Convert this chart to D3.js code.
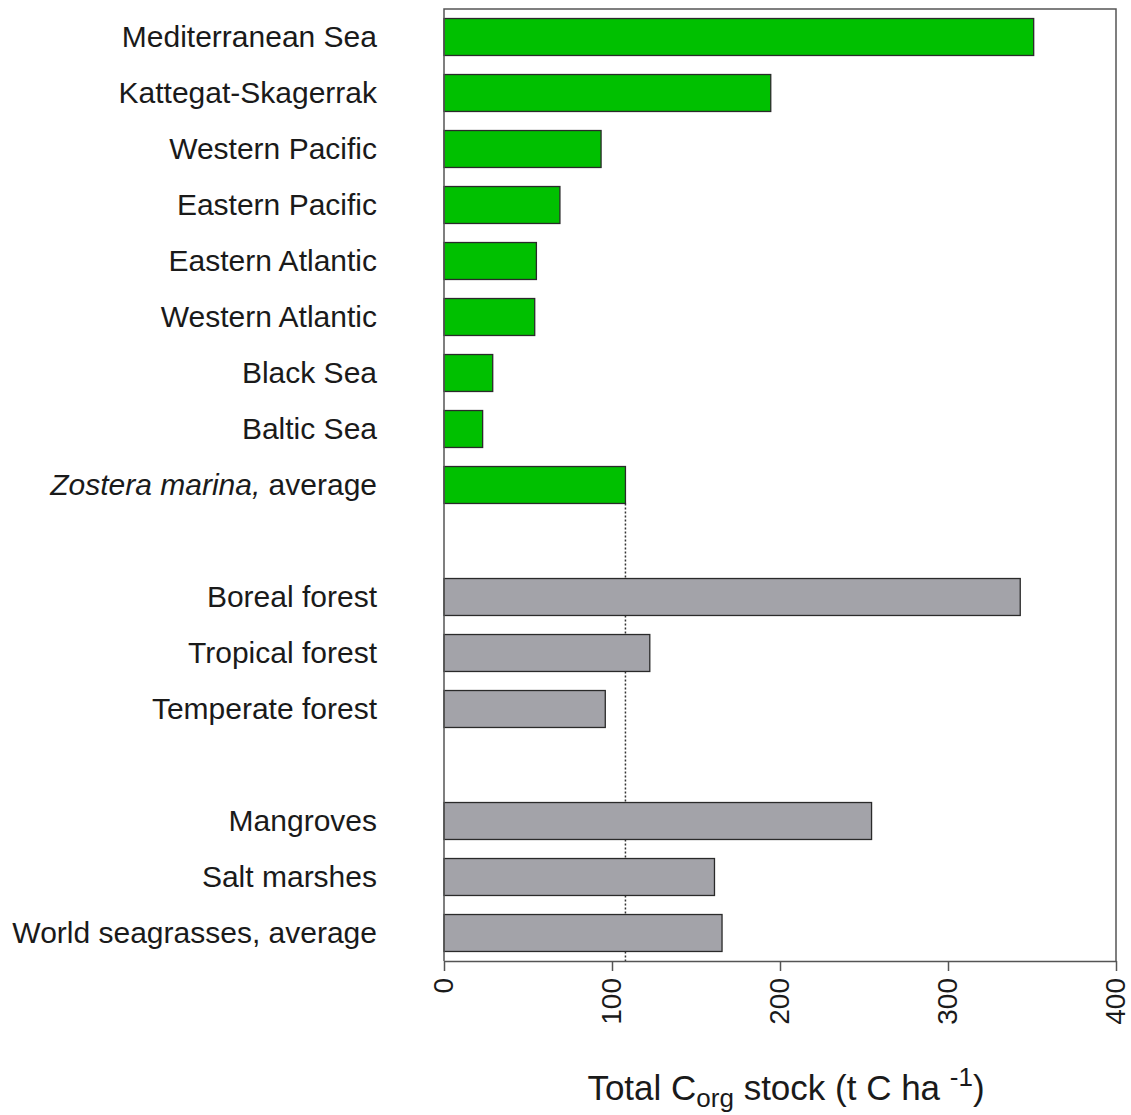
<!DOCTYPE html>
<html>
<head>
<meta charset="utf-8">
<script src="https://cdn.jsdelivr.net/npm/d3@7"></script>
<style>
  body { margin: 0; background: #fff; }
  svg text { font-family: "Liberation Sans", Arial, sans-serif; fill: #1a1a1a; }
</style>
</head>
<body>
<svg id="chart" width="1131" height="1115"></svg>
<script>
// rows top to bottom; the "gap" entries are spacer slots
const categories = [
  "Mediterranean Sea", "Kattegat-Skagerrak", "Western Pacific", "Eastern Pacific",
  "Eastern Atlantic", "Western Atlantic", "Black Sea", "Baltic Sea", "Zostera average",
  "gap1",
  "Boreal forest", "Tropical forest", "Temperate forest",
  "gap2",
  "Mangroves", "Salt marshes", "World seagrasses, average"
];
const stockValues = [351, 194.5, 93.5, 69, 55, 54, 29, 23, 108, null, 343, 122.5, 96, null, 254.5, 161, 165.5];
const seriesGroup = ["eelgrass", "eelgrass", "eelgrass", "eelgrass", "eelgrass", "eelgrass", "eelgrass", "eelgrass", "eelgrass",
  null, "other", "other", "other", null, "other", "other", "other"];
const xTicks = [0, 100, 200, 300, 400];
const referenceValue = 108; // Zostera marina average

const margin = {left: 444, right: 1116, top: 9, bottom: 961};
const svg = d3.select("#chart");

const x = d3.scaleLinear().domain([0, 400]).range([margin.left, margin.right]);
const y = d3.scaleBand().domain(categories).range([margin.top, margin.bottom]).paddingInner(0.34).paddingOuter(0.17);

const fillFor = g => g === "eelgrass" ? "#00c000" : "#a3a3a9";

const rows = categories.map((c, i) => ({cat: c, value: stockValues[i], group: seriesGroup[i]}))
  .filter(d => d.value !== null);

// reference dotted line
const zRow = rows.find(d => d.cat === "Zostera average");
svg.append("line")
  .attr("x1", x(referenceValue)).attr("x2", x(referenceValue))
  .attr("y1", y(zRow.cat) + y.bandwidth()).attr("y2", margin.bottom)
  .attr("stroke", "#333").attr("stroke-width", 1.5).attr("stroke-dasharray", "2,2");

// bars
svg.append("g").selectAll("rect")
  .data(rows)
  .join("rect")
  .attr("x", x(0))
  .attr("y", d => y(d.cat))
  .attr("width", d => x(d.value) - x(0))
  .attr("height", y.bandwidth())
  .attr("fill", d => fillFor(d.group))
  .attr("stroke", "#2a2a2a")
  .attr("stroke-width", 1.3);

// category labels
const labels = svg.append("g").selectAll("text")
  .data(rows)
  .join("text")
  .attr("x", margin.left - 67)
  .attr("y", d => y(d.cat) + y.bandwidth() / 2)
  .attr("dy", "0.33em")
  .attr("text-anchor", "end")
  .style("font-size", "30px");
labels.each(function(d) {
  const t = d3.select(this);
  if (d.cat === "Zostera average") {
    t.append("tspan").style("font-style", "italic").text("Zostera marina,");
    t.append("tspan").text(" average");
  } else {
    t.text(d.cat);
  }
});

// frame (top / right / left)
svg.append("path")
  .attr("d", `M${margin.left},${margin.bottom}V${margin.top}H${margin.right}V${margin.bottom}`)
  .attr("fill", "none").attr("stroke", "#555").attr("stroke-width", 1.5);

// bottom axis
const xAxis = svg.append("g")
  .attr("transform", `translate(0,${margin.bottom})`)
  .call(d3.axisBottom(x).tickValues(xTicks).tickSize(10).tickSizeOuter(0));
xAxis.select(".domain").attr("stroke", "#555").attr("stroke-width", 1.5);
xAxis.selectAll(".tick line").attr("stroke", "#555").attr("stroke-width", 1.5);
xAxis.selectAll(".tick text")
  .style("font-size", "28px")
  .attr("transform", "rotate(-90)")
  .attr("text-anchor", "end")
  .attr("x", -17)
  .attr("y", 0)
  .attr("dy", "0.32em");

// axis title
const title = svg.append("text")
  .attr("x", 786)
  .attr("y", 1100)
  .attr("text-anchor", "middle")
  .style("font-size", "35px");
title.append("tspan").text("Total C");
title.append("tspan").attr("dy", 7).style("font-size", "26px").text("org");
title.append("tspan").attr("dy", -7).text(" stock (t C ha ");
title.append("tspan").attr("dy", -14).style("font-size", "26px").text("-1");
title.append("tspan").attr("dy", 14).text(")");
</script>
</body>
</html>
